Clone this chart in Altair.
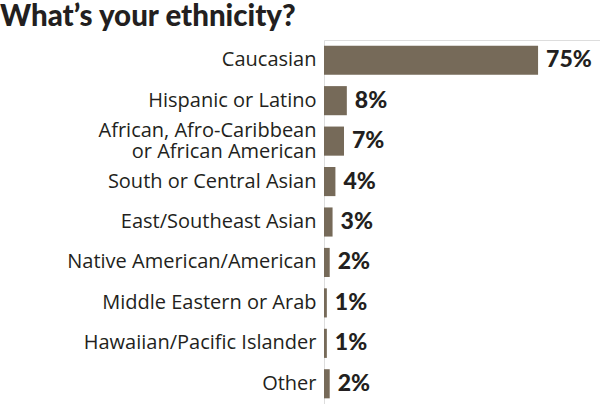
import altair as alt
import pandas as pd

categories = [
    "Caucasian",
    "Hispanic or Latino",
    "African, Afro-Caribbean|or African American",
    "South or Central Asian",
    "East/Southeast Asian",
    "Native American/American",
    "Middle Eastern or Arab",
    "Hawaiian/Pacific Islander",
    "Other",
]
values = [75, 8, 7, 4, 3, 2, 1, 1, 2]
value_labels = ["75%", "8%", "7%", "4%", "3%", "2%", "1%", "1%", "2%"]

df = pd.DataFrame({"cat": categories, "val": values, "lab": value_labels})

FONT = "Lato"
LABEL_FONT = "Open Sans"
BAR = "#766a59"
INK = "#231f20"

y_enc = alt.Y(
    "cat:N",
    sort=categories,
    scale=alt.Scale(paddingInner=0.28, paddingOuter=0.14),
    axis=alt.Axis(
        title=None,
        domain=False,
        ticks=False,
        labelPadding=8,
        labelFont=LABEL_FONT,
        labelFontSize=20,
        labelColor=INK,
        labelLimit=400,
        labelLineHeight=21,
        labelExpr="split(datum.label, '|')",
        labelOffset=alt.condition("indexof(datum.label, '|') >= 0", alt.value(-10), alt.value(0)),
    ),
)
x_enc = alt.X("val:Q", scale=alt.Scale(domain=[0, 96.7]), axis=None)

bars = alt.Chart(df).mark_bar(color=BAR).encode(x=x_enc, y=y_enc)
texts = alt.Chart(df).mark_text(
    align="left", baseline="middle", dx=8, font=FONT, fontSize=23,
    fontWeight=900, color=INK
).encode(x=x_enc, y=y_enc, text="lab:N")

chart = (
    alt.layer(bars, texts)
    .properties(
        width=276,
        height=364,
        autosize=alt.AutoSizeParams(type="none"),
        padding={"left": 324, "top": 40, "right": 0, "bottom": 0},
        title=alt.TitleParams(
            "What\u2019s your ethnicity?",
            anchor="start",
            frame="group",
            dx=-324,
            dy=2,
            font=FONT,
            fontSize=29.5,
            fontWeight=900,
            color=INK,
            offset=10,
        ),
    )
    .configure_view(stroke=None)
    .configure(background="white")
)

chart.save("out.html", embed_options={"renderer": "svg", "actions": False})
